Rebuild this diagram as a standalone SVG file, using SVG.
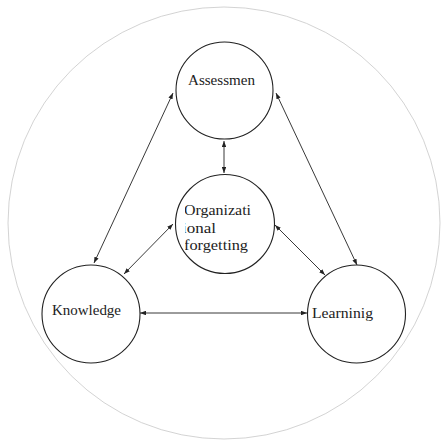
<svg xmlns="http://www.w3.org/2000/svg" width="443" height="444" viewBox="0 0 443 444">
<style>
.node{fill:#fff;stroke:#222;stroke-width:1.1}
text{font-family:'Liberation Serif','DejaVu Serif',serif;font-size:14px;fill:#222}
.conn line{stroke:#222;stroke-width:0.9;marker-start:url(#ah);marker-end:url(#ah)}
</style>
<defs>
<marker id="ah" viewBox="0 0 8 6" refX="8" refY="3" markerWidth="6" markerHeight="4.5" orient="auto-start-reverse" markerUnits="userSpaceOnUse">
<path d="M0,0 L8,3 L0,6 z" fill="#222"/>
</marker>
<clipPath id="clipOrg"><rect x="185" y="190" width="100" height="80"/></clipPath>
</defs>
<rect width="443" height="444" fill="#fff"/>
<circle cx="224" cy="223" r="216" fill="none" stroke="#c8c8c8" stroke-width="0.8"/>
<g class="conn">
<line x1="173" y1="93" x2="94" y2="263"/>
<line x1="276" y1="93" x2="357" y2="265"/>
<line x1="224" y1="141" x2="224" y2="173"/>
<line x1="173" y1="224" x2="124" y2="274"/>
<line x1="275" y1="225" x2="325" y2="275"/>
<line x1="140" y1="313" x2="307" y2="313"/>
</g>
<g id="assessment">
<circle class="node" cx="224.5" cy="90.5" r="48.5"/>
<text x="188" y="85" textLength="67" lengthAdjust="spacingAndGlyphs">Assessmen</text>
</g>
<g id="organizational">
<circle class="node" cx="225" cy="224" r="49.5"/>
<g clip-path="url(#clipOrg)">
<text x="184" y="215" textLength="67" lengthAdjust="spacingAndGlyphs">Organizati</text>
<text x="182" y="233" textLength="34" lengthAdjust="spacingAndGlyphs">ional</text>
<text x="184" y="250" textLength="64" lengthAdjust="spacingAndGlyphs">forgetting</text>
</g>
</g>
<g id="knowledge">
<circle class="node" cx="91" cy="314" r="49"/>
<text x="52" y="315" textLength="69" lengthAdjust="spacingAndGlyphs">Knowledge</text>
</g>
<g id="learning">
<circle class="node" cx="356.5" cy="314" r="49"/>
<text x="312" y="318" textLength="61" lengthAdjust="spacingAndGlyphs">Learninig</text>
</g>
</svg>
